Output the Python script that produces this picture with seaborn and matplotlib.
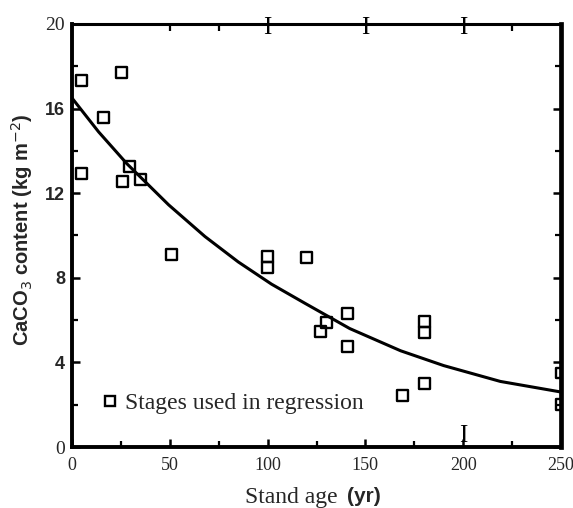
import matplotlib
matplotlib.use("Agg")
import matplotlib.pyplot as plt
import seaborn as sns
import pandas as pd
from matplotlib.ticker import MultipleLocator, FixedLocator
from matplotlib.lines import Line2D

# ---- data ----
stand_age = [5, 5, 16, 25.5, 26, 29.5, 35, 51, 100, 100, 120, 127, 130, 141, 141,
             169, 180, 180, 180, 250, 250]
caco3 = [17.35, 12.95, 15.6, 17.7, 12.55, 13.25, 12.65, 9.1, 9.0, 8.5, 8.95, 5.45,
         5.9, 6.3, 4.75, 2.45, 5.95, 5.4, 3.0, 3.5, 2.0]

# regression curve
fit_age = [0, 13.6, 28, 49.4, 68, 85, 102, 119, 142, 168, 190, 219, 250]
fit_caco3 = [16.5, 14.9, 13.4, 11.45, 9.95, 8.75, 7.7, 6.8, 5.6, 4.55, 3.85, 3.1, 2.6]

x_ticks = [0, 50, 100, 150, 200, 250]
y_ticks = [0, 4, 8, 12, 16, 20]
top_ticks = [50, 75, 225]
legend_label = "Stages used in regression"

df_pts = pd.DataFrame({"age": stand_age, "c": caco3})
df_fit = pd.DataFrame({"age": fit_age, "c": fit_caco3})

sns.set_style("ticks")
plt.rcParams["font.family"] = ["DejaVu Sans"]

fig = plt.figure(figsize=(5.73, 5.08), dpi=100)
ax = fig.add_axes([72 / 573, 1 - 447 / 508, (561 - 72) / 573, (447 - 24) / 508])

sns.lineplot(data=df_fit, x="age", y="c", ax=ax, color="black", lw=2.2,
             estimator=None, sort=True)
sns.scatterplot(data=df_pts, x="age", y="c", ax=ax, marker="s", s=62,
                facecolor="none", edgecolor="black", linewidth=1.7, zorder=3)

ax.set_xlim(0, 250)
ax.set_ylim(0, 20)
ax.set_xlabel("")
ax.set_ylabel("")

# spines
for side, lw in [("left", 2.8), ("bottom", 2.8), ("right", 3.4), ("top", 2.2)]:
    ax.spines[side].set_visible(True)
    ax.spines[side].set_linewidth(lw)
    ax.spines[side].set_color("black")

ax.xaxis.set_major_locator(FixedLocator(x_ticks))
ax.xaxis.set_minor_locator(MultipleLocator(25))
ax.yaxis.set_major_locator(FixedLocator(y_ticks))
ax.yaxis.set_minor_locator(MultipleLocator(2))
ax.tick_params(axis="both", which="major", direction="in", length=6, width=1.8,
               color="black")
ax.tick_params(axis="both", which="minor", direction="in", length=4, width=1.6,
               color="black")
ax.tick_params(axis="x", which="both", top=False, pad=7)
ax.tick_params(axis="y", which="both", right=True, pad=5)

# top ticks only where the reference has them
sec = ax.secondary_xaxis("top")
sec.set_xticks(top_ticks)
sec.set_xticklabels([])
sec.tick_params(direction="in", length=5, width=1.6, color="black")
sec.spines["top"].set_visible(False)

ax.set_xticks(x_ticks)
ax.set_xticklabels([str(v) for v in x_ticks], fontfamily="Liberation Serif",
                   fontsize=13)
ax.set_yticks(y_ticks)
ylabels = ax.set_yticklabels([str(v) for v in y_ticks])
for t, v in zip(ylabels, y_ticks):
    if v in (0, 20):
        t.set_fontfamily("Liberation Serif")
        t.set_fontsize(14)
    else:
        t.set_fontfamily("Liberation Sans")
        t.set_fontweight("bold")
        t.set_fontsize(13)

# "I" marks along the top and bottom axes
for xv in (100, 150, 200):
    ax.text(xv, 19.8, "I", ha="center", va="center", fontsize=18,
            fontfamily="Liberation Serif", color="black", clip_on=False)
ax.text(200, 0.5, "I", ha="center", va="center", fontsize=18,
        fontfamily="Liberation Serif", color="black")

# legend
handle = Line2D([], [], marker="s", ls="none", markersize=6.5,
                markerfacecolor="none", markeredgecolor="black",
                markeredgewidth=1.7)
leg = ax.legend([handle], [legend_label], loc="center left",
                bbox_to_anchor=(0.058, 0.104), frameon=False,
                handlelength=0.8, handletextpad=0.25, borderaxespad=0,
                borderpad=0, prop={"family": "Liberation Serif", "size": 17})

# axis labels
fig.text(245 / 573, 1 - 498 / 508, "Stand age", ha="left", va="center",
         fontfamily="Liberation Serif", fontsize=17)
fig.text(347 / 573, 1 - 497 / 508, "(yr)", ha="left", va="center",
         fontfamily="Liberation Sans", fontweight="bold", fontsize=15)
fig.text(22 / 573, 1 - 230 / 508, r"CaCO$_3$ content (kg m$^{-2}$)", rotation=90,
         ha="center", va="center", fontfamily="Liberation Sans", fontweight="bold",
         fontsize=14.5)

fig.savefig("out.png", dpi=100)
